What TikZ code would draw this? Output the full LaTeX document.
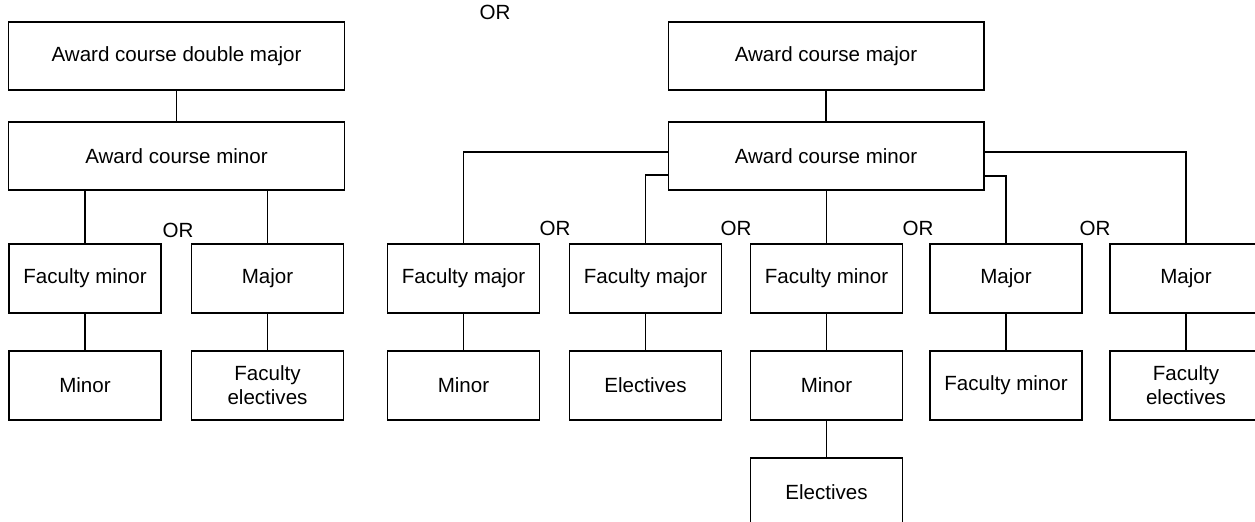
\documentclass[tikz,border=0pt]{standalone}
\usepackage{fontspec}
\setmainfont{Liberation Sans}
\begin{document}
\begin{tikzpicture}[x=0.02cm,y=-0.02cm,
  box/.style={draw, line width=0.6pt, minimum width=3.04cm, minimum height=1.38cm, inner sep=0pt, align=center, font=\fontsize{11.7}{13.5}\selectfont},
  widebox/.style={box, minimum width=6.74cm, minimum height=1.36cm},
  midbox/.style={box, minimum width=6.32cm, minimum height=1.36cm},
  orword/.style={font=\fontsize{11.7}{13.5}\selectfont, inner sep=0pt},
  link/.style={line width=0.6pt}]
\clip (0,0) rectangle (1255,521);
\node[widebox] (dmajor) at (176.5,56) {Award course double major};
\node[widebox] (lminor) at (176.5,156) {Award course minor};
\node[box] (lfacmin) at (85,278.5) {Faculty minor};
\node[box] (lmajor) at (267.5,278.5) {Major};
\node[box] (lmin) at (85,385.5) {Minor};
\node[box] (lfacel) at (267.5,385.5) {Faculty\\electives};
\node[orword] (lor) at (178,230) {OR};
\node[orword] (topor) at (495,12) {OR};
\node[midbox] (rmajor) at (826,56) {Award course major};
\node[midbox] (rminor) at (826,156) {Award course minor};
\node[box] (facmaja) at (463.5,278.5) {Faculty major};
\node[box] (facmajb) at (645.5,278.5) {Faculty major};
\node[box] (facmin) at (826.5,278.5) {Faculty minor};
\node[box] (majora) at (1006,278.5) {Major};
\node[box] (majorb) at (1186,278.5) {Major};
\node[box] (mina) at (463.5,385.5) {Minor};
\node[box] (elecb) at (645.5,385.5) {Electives};
\node[box] (minc) at (826.5,385.5) {Minor};
\node[box] (facmind) at (1006,385.5) {Faculty minor};
\node[box] (facele) at (1186,385.5) {Faculty\\electives};
\node[box] (elecc) at (826.5,492.5) {Electives};
\node[orword] (ora) at (555,228) {OR};
\node[orword] (orb) at (736,228) {OR};
\node[orword] (orc) at (918,228) {OR};
\node[orword] (ord) at (1095,228) {OR};
% left tree
\draw[link] (dmajor) -- (lminor);
\draw[link] (lfacmin.north |- lminor.south) -- (lfacmin.north);
\draw[link] (lmajor.north |- lminor.south) -- (lmajor.north);
\draw[link] (lfacmin) -- (lmin);
\draw[link] (lmajor) -- (lfacel);
% right tree
\draw[link] (rmajor) -- (rminor);
\draw[link] ([yshift=0.08cm]rminor.west) -| (facmaja.north);
\draw[link] ([yshift=-0.38cm]rminor.west) -| (facmajb.north);
\draw[link] (facmin.north |- rminor.south) -- (facmin.north);
\draw[link] ([yshift=-0.4cm]rminor.east) -| (majora.north);
\draw[link] ([yshift=0.08cm]rminor.east) -| (majorb.north);
\draw[link] (facmaja) -- (mina);
\draw[link] (facmajb) -- (elecb);
\draw[link] (facmin) -- (minc);
\draw[link] (minc) -- (elecc);
\draw[link] (majora) -- (facmind);
\draw[link] (majorb) -- (facele);
\end{tikzpicture}
\end{document}
